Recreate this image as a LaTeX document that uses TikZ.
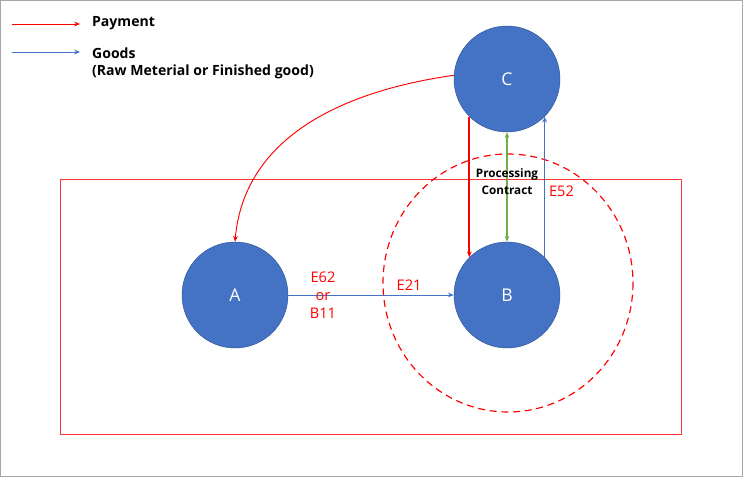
\documentclass[tikz,border=0pt]{standalone}
\usepackage{fontspec}
\setmainfont{Open Sans}
\usetikzlibrary{positioning,arrows.meta,calc}

\definecolor{pay}{HTML}{FF0000}
\definecolor{goods}{HTML}{4472C4}
\definecolor{agree}{HTML}{70AD47}
\definecolor{ring}{HTML}{2F528F}

\begin{document}
\begin{tikzpicture}[x=0.03cm, y=-0.03cm, >={Stealth[length=5pt,width=4pt]}]
    \useasboundingbox (0,0) rectangle (743,477);
    \draw[gray!70, line width=1pt] (0.5,0.5) rectangle (742.5,476.5);

    \tikzset{
        party/.style={circle, draw=ring, fill=goods, minimum size=3.18cm, text=white, font=\fontsize{15}{17}\selectfont},
        paid/.style={draw=pay, line width=0.8pt, ->},
        ship/.style={draw=goods, line width=0.8pt, ->},
        tag/.style={text=pay, font=\fontsize{12.5}{15.5}\selectfont},
        legend/.style={text=black, font=\bfseries\fontsize{12}{14.5}\selectfont, anchor=west, align=left}
    }

    % legend
    \coordinate (p0) at (12,24);
    \coordinate (p1) at (80,24);
    \coordinate (g0) at (12,52);
    \coordinate (g1) at (80,52);
    \draw[paid] (p0) -- (p1);
    \draw[ship] (g0) -- (g1);
    \node[legend] (payment) at (88,23) {Payment};
    \node[legend, anchor=north west] (goodsTxt) at (88,44) {Goods\\(Raw Meterial or Finished good)};

    % frames
    \draw[pay!80, line width=0.6pt] (60,179) rectangle (681,434);
    \draw[pay, dashed, line width=1pt, dash pattern=on 6pt off 4pt] (508,283) ellipse (125 and 129);

    % parties
    \node[party] (a) at (235,295) {A};
    \node[party] (b) at (507,295) {B};
    \node[party] (c) at (507,79) {C};

    % flows
    \draw[paid] (c.176) to[out=188, in=85] (a.north);
    \draw[paid, line width=1.5pt] (c.225) -- (b.135);
    \draw[ship] (b.45) -- node[tag, right, pos=0.47] {E52} (c.-45);
    \draw[agree, line width=2pt, <->] (c.south) -- node[text=black, font=\bfseries\fontsize{10}{14.5}\selectfont, align=center, pos=0.45] {Processing\\Contract} (b.north);
    \draw[ship] (a.east) -- node[tag, align=center, pos=0.21] {E62\\or\\B11} node[tag, above, pos=0.73] {E21} (b.west);
\end{tikzpicture}
\end{document}
